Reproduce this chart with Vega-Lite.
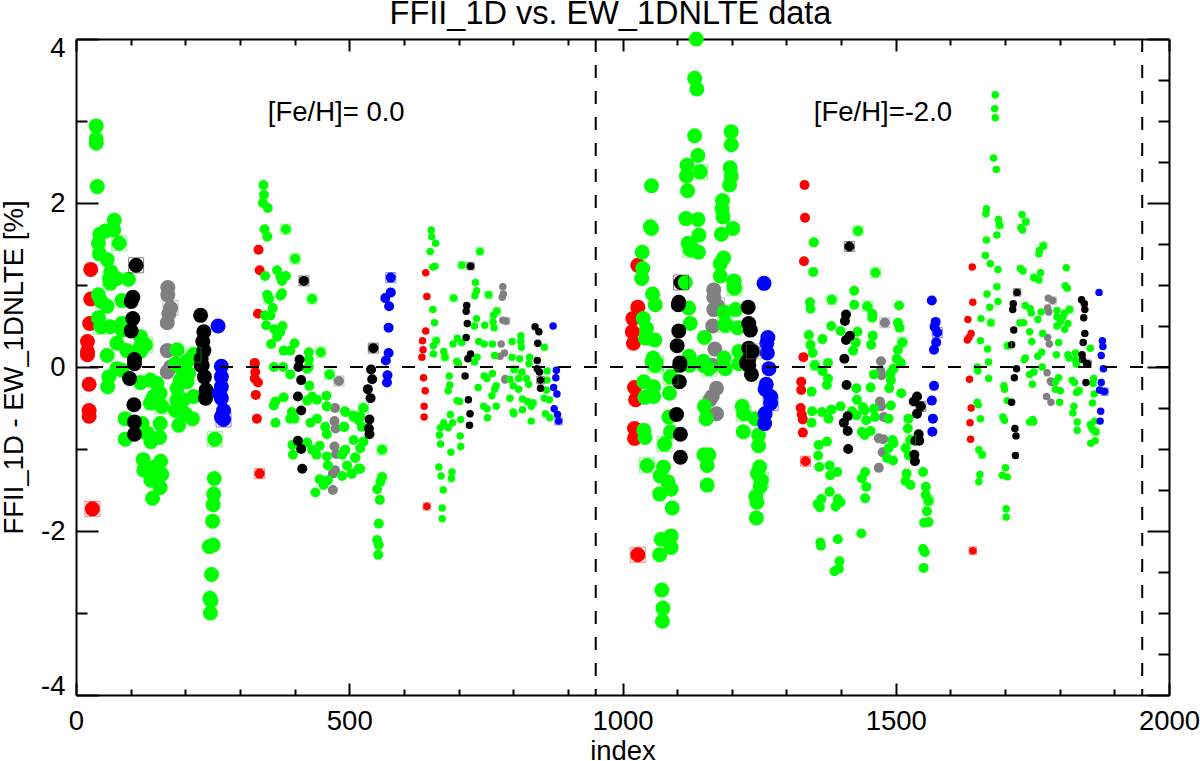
{"$schema":"https://vega.github.io/schema/vega-lite/v6.json","width":1093,"height":656,"autosize":"none","padding":{"left":76,"top":39,"right":31,"bottom":66},"background":"white","view":{"stroke":null},
"title":{"text":"FFII_1D vs. EW_1DNLTE data","font":"Liberation Sans","fontSize":32.5,"fontWeight":"normal","color":"black","anchor":"middle","dx":-12,"offset":1},
"config":{"axis":{"grid":false,"domainColor":"black","domainWidth":2,"tickColor":"black","tickWidth":2,"labelColor":"black","titleColor":"black","labelFont":"Liberation Sans","titleFont":"Liberation Sans","labelFontSize":27.5,"titleFontSize":27.5,"titleFontWeight":"normal"}},
"data":{"values":[
{"i":27,"d":1.19,"k":"r","g":1},{"i":27,"d":0.83,"k":"r","g":1},{"i":25,"d":0.53,"k":"r","g":1},{"i":21,"d":0.31,"k":"r","g":1},{"i":21,"d":0.19,"k":"r","g":1},{"i":21,"d":0.15,"k":"r","g":1},{"i":24,"d":-0.21,"k":"r","g":1},{"i":24,"d":-0.53,"k":"r","g":1},{"i":24,"d":-0.6,"k":"r","g":1},{"i":30,"d":-1.73,"k":"r","g":1,"b":1},
{"i":168,"d":0.97,"k":"a","g":1},{"i":168,"d":0.88,"k":"a","g":1},{"i":173,"d":0.72,"k":"a","g":1,"b":1},{"i":170,"d":0.65,"k":"a","g":1},{"i":167,"d":0.54,"k":"a","g":1},{"i":167,"d":0.2,"k":"a","g":1},{"i":173,"d":0,"k":"a","g":1},{"i":167,"d":-0.06,"k":"a","g":1},
{"i":37,"d":2.94,"k":"g","g":1},{"i":37,"d":2.78,"k":"g","g":1},{"i":37,"d":2.73,"k":"g","g":1},{"i":39,"d":2.2,"k":"g","g":1},{"i":70,"d":1.79,"k":"g","g":1},{"i":54,"d":1.66,"k":"g","g":1},{"i":44,"d":1.62,"k":"g","g":1},{"i":69,"d":1.67,"k":"g","g":1},{"i":41,"d":1.51,"k":"g","g":1},{"i":79,"d":1.51,"k":"g","g":1,"b":1},{"i":43,"d":1.38,"k":"g","g":1},{"i":57,"d":1.31,"k":"g","g":1},{"i":64,"d":1.16,"k":"g","g":1},{"i":63,"d":1.02,"k":"g","g":1},{"i":75,"d":1.08,"k":"g","g":1},{"i":96,"d":1.07,"k":"g","g":1},{"i":62,"d":1.08,"k":"g","g":1,"b":1},{"i":41,"d":0.88,"k":"g","g":1},{"i":46,"d":0.8,"k":"g","g":1},{"i":57,"d":0.74,"k":"g","g":1},{"i":84,"d":0.81,"k":"g","g":1},{"i":41,"d":0.6,"k":"g","g":1},{"i":46,"d":0.49,"k":"g","g":1,"b":1},{"i":63,"d":0.49,"k":"g","g":1},{"i":84,"d":0.53,"k":"g","g":1},{"i":84,"d":0.45,"k":"g","g":1},{"i":118,"d":0.37,"k":"g","g":1},{"i":127,"d":0.27,"k":"g","g":1,"b":1},{"i":118,"d":0.25,"k":"g","g":1},{"i":118,"d":0.19,"k":"g","g":1},{"i":75,"d":0.29,"k":"g","g":1},{"i":93,"d":0.2,"k":"g","g":1},{"i":57,"d":0.14,"k":"g","g":1},{"i":75,"d":-0.02,"k":"g","g":1},{"i":84,"d":-0.04,"k":"g","g":1},{"i":185,"d":0.21,"k":"g","g":1},{"i":182,"d":0.04,"k":"g","g":1},{"i":203,"d":0.07,"k":"g","g":1},{"i":215,"d":0.15,"k":"g","g":1,"b":1},
{"i":60,"d":-0.12,"k":"g","g":1},{"i":58,"d":-0.24,"k":"g","g":1},{"i":90,"d":-0.63,"k":"g","g":1},{"i":90,"d":-0.88,"k":"g","g":1},{"i":118,"d":-0.19,"k":"g","g":1},{"i":136,"d":-0.16,"k":"g","g":1},{"i":148,"d":-0.2,"k":"g","g":1},{"i":142,"d":-0.36,"k":"g","g":1},{"i":154,"d":-0.32,"k":"g","g":1},{"i":136,"d":-0.44,"k":"g","g":1},{"i":157,"d":-0.48,"k":"g","g":1,"b":1},{"i":121,"d":-0.69,"k":"g","g":1},{"i":115,"d":-0.79,"k":"g","g":1},{"i":131,"d":-0.81,"k":"g","g":1},{"i":137,"d":-0.91,"k":"g","g":1},{"i":153,"d":-0.86,"k":"g","g":1},{"i":154,"d":-0.69,"k":"g","g":1},{"i":185,"d":-0.26,"k":"g","g":1},{"i":203,"d":-0.18,"k":"g","g":1},{"i":215,"d":-0.36,"k":"g","g":1},{"i":185,"d":-0.4,"k":"g","g":1},{"i":197,"d":-0.4,"k":"g","g":1},{"i":200,"d":-0.57,"k":"g","g":1},{"i":213,"d":-0.63,"k":"g","g":1},{"i":188,"d":-0.71,"k":"g","g":1},{"i":182,"d":-0.53,"k":"g","g":1},{"i":206,"d":-0.08,"k":"g","g":1},{"i":191,"d":0,"k":"g","g":1},{"i":191,"d":-0.16,"k":"g","g":1},{"i":123,"d":-1.13,"k":"g","g":1},{"i":155,"d":-1.15,"k":"g","g":1},{"i":124,"d":-1.26,"k":"g","g":1},{"i":145,"d":-1.22,"k":"g","g":1},{"i":157,"d":-1.31,"k":"g","g":1},{"i":137,"d":-1.38,"k":"g","g":1},{"i":154,"d":-1.47,"k":"g","g":1},{"i":140,"d":-1.6,"k":"g","g":1},{"i":254,"d":-0.88,"k":"g","g":1,"b":1},{"i":253,"d":-1.36,"k":"g","g":1},{"i":252,"d":-1.55,"k":"g","g":1},{"i":251,"d":-1.68,"k":"g","g":1},{"i":250,"d":-1.88,"k":"g","g":1},{"i":244,"d":-2.19,"k":"g","g":1},{"i":251,"d":-2.17,"k":"g","g":1},{"i":248,"d":-2.53,"k":"g","g":1},{"i":245,"d":-2.82,"k":"g","g":1},{"i":247,"d":-2.85,"k":"g","g":1},{"i":246,"d":-3,"k":"g","g":1},
{"i":110,"d":1.24,"k":"k","g":1,"b":1},{"i":104,"d":0.85,"k":"k","g":1},{"i":101,"d":0.8,"k":"k","g":1},{"i":104,"d":0.59,"k":"k","g":1},{"i":101,"d":0.44,"k":"k","g":1},{"i":107,"d":0.09,"k":"k","g":1},{"i":228,"d":0.63,"k":"k","g":1},{"i":234,"d":0.43,"k":"k","g":1},{"i":232,"d":0.31,"k":"k","g":1},{"i":234,"d":0.2,"k":"k","g":1},{"i":229,"d":0.1,"k":"k","g":1},{"i":229,"d":0.02,"k":"k","g":1},{"i":107,"d":0.04,"k":"k","g":1},{"i":98,"d":-0.14,"k":"k","g":1},{"i":106,"d":-0.46,"k":"k","g":1},{"i":107,"d":-0.67,"k":"k","g":1},{"i":107,"d":-0.82,"k":"k","g":1},{"i":231,"d":0.02,"k":"k","g":1},{"i":235,"d":-0.12,"k":"k","g":1},{"i":238,"d":-0.28,"k":"k","g":1},{"i":237,"d":-0.38,"k":"k","g":1},
{"i":260,"d":0.5,"k":"b","g":1},{"i":266,"d":0.01,"k":"b","g":1},{"i":266,"d":-0.12,"k":"b","g":1},{"i":266,"d":-0.24,"k":"b","g":1},{"i":262,"d":-0.32,"k":"b","g":1},{"i":266,"d":-0.38,"k":"b","g":1},{"i":270,"d":-0.53,"k":"b","g":1},{"i":266,"d":-0.61,"k":"b","g":1},{"i":270,"d":-0.64,"k":"b","g":1,"b":1},
{"i":334,"d":1.43,"k":"r","g":2},{"i":336,"d":1.18,"k":"r","g":2},{"i":333,"d":0.65,"k":"r","g":2},{"i":327,"d":0.05,"k":"r","g":2},{"i":327,"d":0.04,"k":"r","g":2},{"i":328,"d":-0.06,"k":"r","g":2},{"i":327,"d":-0.14,"k":"r","g":2},{"i":333,"d":-0.19,"k":"r","g":2},{"i":329,"d":-0.34,"k":"r","g":2},{"i":331,"d":-0.63,"k":"r","g":2},{"i":336,"d":-1.3,"k":"r","g":2,"b":1},
{"i":481,"d":-0.17,"k":"a","g":2,"b":1},{"i":474,"d":-0.5,"k":"a","g":2},{"i":473,"d":-0.66,"k":"a","g":2},{"i":475,"d":-0.75,"k":"a","g":2},{"i":473,"d":-0.97,"k":"a","g":2},{"i":476,"d":-1.06,"k":"a","g":2},{"i":474,"d":-1.26,"k":"a","g":2},{"i":470,"d":-1.3,"k":"a","g":2},{"i":470,"d":-1.5,"k":"a","g":2},
{"i":343,"d":2.22,"k":"g","g":2},{"i":344,"d":2.1,"k":"g","g":2},{"i":342,"d":2,"k":"g","g":2},{"i":351,"d":1.94,"k":"g","g":2},{"i":345,"d":1.68,"k":"g","g":2},{"i":350,"d":1.59,"k":"g","g":2},{"i":384,"d":1.68,"k":"g","g":2,"b":1},{"i":401,"d":1.32,"k":"g","g":2,"b":1},{"i":368,"d":1.18,"k":"g","g":2},{"i":374,"d":1.1,"k":"g","g":2},{"i":384,"d":1.11,"k":"g","g":2},{"i":377,"d":1.05,"k":"g","g":2},{"i":346,"d":1.11,"k":"g","g":2},{"i":377,"d":0.9,"k":"g","g":2},{"i":374,"d":0.87,"k":"g","g":2},{"i":350,"d":0.88,"k":"g","g":2},{"i":353,"d":0.83,"k":"g","g":2,"b":1},{"i":432,"d":0.83,"k":"g","g":2,"b":1},{"i":360,"d":0.72,"k":"g","g":2},{"i":346,"d":0.63,"k":"g","g":2},{"i":356,"d":0.63,"k":"g","g":2},{"i":348,"d":0.51,"k":"g","g":2},{"i":378,"d":0.5,"k":"g","g":2},{"i":363,"d":0.46,"k":"g","g":2},{"i":374,"d":0.43,"k":"g","g":2},{"i":368,"d":0.37,"k":"g","g":2},{"i":357,"d":0.28,"k":"g","g":2},{"i":400,"d":0.29,"k":"g","g":2},{"i":380,"d":0.2,"k":"g","g":2},{"i":392,"d":0.2,"k":"g","g":2},{"i":448,"d":0.18,"k":"g","g":2,"b":1},{"i":426,"d":0.18,"k":"g","g":2},{"i":426,"d":0.09,"k":"g","g":2},{"i":362,"d":0,"k":"g","g":2},{"i":379,"d":0,"k":"g","g":2},{"i":423,"d":-0.02,"k":"g","g":2},{"i":392,"d":-0.09,"k":"g","g":2},{"i":426,"d":0,"k":"g","g":2},{"i":464,"d":-0.09,"k":"g","g":2,"b":1},{"i":427,"d":-0.23,"k":"g","g":2},{"i":380,"d":-0.37,"k":"g","g":2},{"i":365,"d":-0.42,"k":"g","g":2},{"i":362,"d":-0.47,"k":"g","g":2},{"i":395,"d":-0.55,"k":"g","g":2},{"i":392,"d":-0.63,"k":"g","g":2},{"i":400,"d":-0.63,"k":"g","g":2},{"i":365,"d":-0.68,"k":"g","g":2},{"i":429,"d":-0.68,"k":"g","g":2},{"i":441,"d":-0.63,"k":"g","g":2},{"i":423,"d":-0.41,"k":"g","g":2},{"i":432,"d":-0.36,"k":"g","g":2},{"i":441,"d":-0.4,"k":"g","g":2},{"i":458,"d":-0.35,"k":"g","g":2},{"i":459,"d":-0.48,"k":"g","g":2},{"i":456,"d":-0.73,"k":"g","g":2},{"i":459,"d":-0.82,"k":"g","g":2},{"i":492,"d":-0.54,"k":"g","g":2},{"i":508,"d":-0.59,"k":"g","g":2},{"i":517,"d":-0.65,"k":"g","g":2},{"i":490,"d":-0.73,"k":"g","g":2},{"i":508,"d":-0.89,"k":"g","g":2},{"i":396,"d":-0.95,"k":"g","g":2},{"i":397,"d":-1.07,"k":"g","g":2},{"i":423,"d":-0.92,"k":"g","g":2},{"i":432,"d":-1.01,"k":"g","g":2},{"i":440,"d":-1.07,"k":"g","g":2},{"i":446,"d":-0.96,"k":"g","g":2},{"i":459,"d":-1.09,"k":"g","g":2},{"i":461,"d":-1.2,"k":"g","g":2},{"i":493,"d":-1.01,"k":"g","g":2},{"i":487,"d":-1.07,"k":"g","g":2},{"i":511,"d":-1.11,"k":"g","g":2},{"i":496,"d":-1.2,"k":"g","g":2},{"i":487,"d":-1.33,"k":"g","g":2},{"i":504,"d":-1.3,"k":"g","g":2},{"i":517,"d":-1.24,"k":"g","g":2},{"i":446,"d":-1.37,"k":"g","g":2},{"i":453,"d":-1.44,"k":"g","g":2},{"i":461,"d":-1.38,"k":"g","g":2},{"i":438,"d":-1.53,"k":"g","g":2},{"i":493,"d":-0.55,"k":"g","g":2},{"i":508,"d":-0.61,"k":"g","g":2},{"i":526,"d":-0.5,"k":"g","g":2,"b":1},{"i":520,"d":-0.6,"k":"g","g":2},{"i":491,"d":-0.73,"k":"g","g":2},{"i":523,"d":-0.73,"k":"g","g":2},{"i":526,"d":-0.91,"k":"g","g":2},{"i":491,"d":-1.02,"k":"g","g":2},{"i":520,"d":-0.99,"k":"g","g":2},{"i":511,"d":-1.1,"k":"g","g":2},{"i":520,"d":-1.24,"k":"g","g":2},{"i":505,"d":-1.3,"k":"g","g":2},{"i":560,"d":-1.01,"k":"g","g":2,"b":1},{"i":560,"d":-1.34,"k":"g","g":2},{"i":557,"d":-1.4,"k":"g","g":2},{"i":551,"d":-1.49,"k":"g","g":2},{"i":556,"d":-1.62,"k":"g","g":2},{"i":554,"d":-1.91,"k":"g","g":2},{"i":551,"d":-2.11,"k":"g","g":2},{"i":554,"d":-2.17,"k":"g","g":2},{"i":553,"d":-2.29,"k":"g","g":2},
{"i":417,"d":1.05,"k":"k","g":2,"b":1},{"i":409,"d":0.09,"k":"k","g":2},{"i":407,"d":0,"k":"k","g":2},{"i":412,"d":-0.16,"k":"k","g":2},{"i":406,"d":-0.36,"k":"k","g":2},{"i":412,"d":-0.53,"k":"k","g":2},{"i":406,"d":-0.9,"k":"k","g":2},{"i":412,"d":-1,"k":"k","g":2},{"i":414,"d":-1.24,"k":"k","g":2},{"i":544,"d":0.23,"k":"k","g":2,"b":1},{"i":540,"d":-0.03,"k":"k","g":2},{"i":542,"d":-0.15,"k":"k","g":2},{"i":534,"d":-0.27,"k":"k","g":2},{"i":539,"d":-0.38,"k":"k","g":2},{"i":537,"d":-0.64,"k":"k","g":2},{"i":536,"d":-0.75,"k":"k","g":2},{"i":537,"d":-0.82,"k":"k","g":2},
{"i":576,"d":1.09,"k":"b","g":2,"b":1},{"i":576,"d":0.91,"k":"b","g":2},{"i":566,"d":0.84,"k":"b","g":2},{"i":573,"d":0.74,"k":"b","g":2},{"i":572,"d":0.48,"k":"b","g":2},{"i":572,"d":0.17,"k":"b","g":2},{"i":567,"d":0.08,"k":"b","g":2},{"i":570,"d":-0.1,"k":"b","g":2},{"i":569,"d":-0.19,"k":"b","g":2},
{"i":640,"d":1.15,"k":"r","g":3},{"i":642,"d":0.86,"k":"r","g":3},{"i":640,"d":0.44,"k":"r","g":3},{"i":634,"d":0.32,"k":"r","g":3},{"i":635,"d":0.21,"k":"r","g":3},{"i":633,"d":0.12,"k":"r","g":3},{"i":636,"d":-0.13,"k":"r","g":3},{"i":639,"d":-0.29,"k":"r","g":3},{"i":637,"d":-0.48,"k":"r","g":3},{"i":637,"d":-0.61,"k":"r","g":3},{"i":642,"d":-1.7,"k":"r","g":3,"b":1},
{"i":781,"d":0.98,"k":"a","g":3},{"i":782,"d":0.89,"k":"a","g":3},{"i":780,"d":0.85,"k":"a","g":3},{"i":781,"d":0.57,"k":"a","g":3},{"i":787,"d":0.56,"k":"a","g":3,"b":1},{"i":778,"d":0.28,"k":"a","g":3},{"i":784,"d":0.17,"k":"a","g":3},{"i":776,"d":0.13,"k":"a","g":3},{"i":785,"d":-0.14,"k":"a","g":3},{"i":785,"d":-0.16,"k":"a","g":3},
{"i":650,"d":1.67,"k":"g","g":3},{"i":651,"d":1.59,"k":"g","g":3},{"i":658,"d":1.51,"k":"g","g":3},{"i":648,"d":1.41,"k":"g","g":3},{"i":653,"d":1.22,"k":"g","g":3},{"i":657,"d":1.23,"k":"g","g":3},{"i":739,"d":1.41,"k":"g","g":3,"b":1},{"i":706,"d":1.24,"k":"g","g":3,"b":1},{"i":731,"d":1.03,"k":"g","g":3},{"i":733,"d":0.93,"k":"g","g":3},{"i":730,"d":0.87,"k":"g","g":3},{"i":691,"d":0.84,"k":"g","g":3,"b":1},{"i":755,"d":0.88,"k":"g","g":3,"b":1},{"i":653,"d":0.7,"k":"g","g":3},{"i":656,"d":0.54,"k":"g","g":3},{"i":770,"d":0.68,"k":"g","g":3,"b":1},{"i":764,"d":0.63,"k":"g","g":3},{"i":733,"d":0.59,"k":"g","g":3},{"i":729,"d":0.5,"k":"g","g":3},{"i":748,"d":0.51,"k":"g","g":3},{"i":763,"d":0.55,"k":"g","g":3},{"i":765,"d":0.48,"k":"g","g":3},{"i":659,"d":0.32,"k":"g","g":3,"b":1},{"i":654,"d":0.26,"k":"g","g":3},{"i":654,"d":0.16,"k":"g","g":3},{"i":698,"d":0.35,"k":"g","g":3},{"i":690,"d":0.28,"k":"g","g":3},{"i":706,"d":0.3,"k":"g","g":3},{"i":737,"d":0.31,"k":"g","g":3},{"i":747,"d":0.28,"k":"g","g":3},{"i":762,"d":0.28,"k":"g","g":3},{"i":798,"d":0.31,"k":"g","g":3},{"i":814,"d":0.38,"k":"g","g":3},{"i":814,"d":0.31,"k":"g","g":3},{"i":815,"d":0.24,"k":"g","g":3},{"i":857,"d":0.24,"k":"g","g":3},{"i":673,"d":0.19,"k":"g","g":3},{"i":675,"d":0.12,"k":"g","g":3,"b":1},{"i":766,"d":0.14,"k":"g","g":3},{"i":734,"d":0.12,"k":"g","g":3},{"i":798,"d":0.12,"k":"g","g":3},{"i":812,"d":0.1,"k":"g","g":3},{"i":830,"d":0.12,"k":"g","g":3},{"i":697,"d":0.07,"k":"g","g":3},{"i":700,"d":0.04,"k":"g","g":3},{"i":729,"d":0.06,"k":"g","g":3},{"i":829,"d":0.04,"k":"g","g":3},{"i":802,"d":-0.03,"k":"g","g":3,"b":1},{"i":862,"d":-0.05,"k":"g","g":3},{"i":683,"d":-0.11,"k":"g","g":3},{"i":762,"d":-0.08,"k":"g","g":3},{"i":747,"d":-0.11,"k":"g","g":3},{"i":752,"d":-0.14,"k":"g","g":3},{"i":684,"d":-0.22,"k":"g","g":3},{"i":681,"d":-0.29,"k":"g","g":3},{"i":736,"d":-0.25,"k":"g","g":3},{"i":769,"d":-0.23,"k":"g","g":3},{"i":766,"d":-0.27,"k":"g","g":3},{"i":794,"d":-0.15,"k":"g","g":3},{"i":800,"d":-0.23,"k":"g","g":3},{"i":810,"d":-0.14,"k":"g","g":3},{"i":816,"d":-0.06,"k":"g","g":3},{"i":824,"d":-0.14,"k":"g","g":3},{"i":810,"d":-0.27,"k":"g","g":3},{"i":828,"d":-0.21,"k":"g","g":3},{"i":862,"d":-0.16,"k":"g","g":3},{"i":861,"d":-0.28,"k":"g","g":3},{"i":761,"d":-0.35,"k":"g","g":3},{"i":697,"d":-0.41,"k":"g","g":3},{"i":702,"d":-0.42,"k":"g","g":3},{"i":794,"d":-0.38,"k":"g","g":3},{"i":817,"d":-0.39,"k":"g","g":3},{"i":857,"d":-0.38,"k":"g","g":3},{"i":866,"d":-0.4,"k":"g","g":3},{"i":826,"d":-0.42,"k":"g","g":3},{"i":836,"d":-0.44,"k":"g","g":3,"b":1},{"i":833,"d":-0.48,"k":"g","g":3},{"i":746,"d":-0.48,"k":"g","g":3},{"i":769,"d":-0.48,"k":"g","g":3},{"i":752,"d":-0.51,"k":"g","g":3},{"i":817,"d":-0.52,"k":"g","g":3},{"i":800,"d":-0.55,"k":"g","g":3},{"i":801,"d":-0.57,"k":"g","g":3},{"i":685,"d":-0.58,"k":"g","g":3},{"i":859,"d":-0.57,"k":"g","g":3},{"i":867,"d":-0.62,"k":"g","g":3},{"i":753,"d":-0.62,"k":"g","g":3},{"i":833,"d":-0.66,"k":"g","g":3},{"i":673,"d":-0.68,"k":"g","g":3},{"i":689,"d":-0.68,"k":"g","g":3},{"i":704,"d":-0.64,"k":"g","g":3},{"i":667,"d":-0.74,"k":"g","g":3},{"i":681,"d":-0.74,"k":"g","g":3},{"i":665,"d":-0.83,"k":"g","g":3},{"i":703,"d":-0.84,"k":"g","g":3},{"i":667,"d":-0.94,"k":"g","g":3},{"i":704,"d":-0.97,"k":"g","g":3},{"i":686,"d":-1.04,"k":"g","g":3},{"i":664,"d":-1.22,"k":"g","g":3},{"i":668,"d":-1.33,"k":"g","g":3},{"i":688,"d":-1.28,"k":"g","g":3},{"i":687,"d":-1.36,"k":"g","g":3},{"i":672,"d":-1.5,"k":"g","g":3},{"i":670,"d":-1.72,"k":"g","g":3},{"i":670,"d":-1.85,"k":"g","g":3},
{"i":722,"d":1.23,"k":"k","g":3,"b":1},{"i":715,"d":0.75,"k":"k","g":3},{"i":714,"d":0.68,"k":"k","g":3},{"i":716,"d":0.53,"k":"k","g":3},{"i":714,"d":0.36,"k":"k","g":3},{"i":722,"d":0.16,"k":"k","g":3},{"i":717,"d":0.1,"k":"k","g":3},{"i":712,"d":-0.11,"k":"k","g":3},{"i":718,"d":-0.4,"k":"k","g":3},{"i":721,"d":-0.57,"k":"k","g":3},{"i":720,"d":-0.71,"k":"k","g":3},{"i":840,"d":0.49,"k":"k","g":3},{"i":847,"d":0.43,"k":"k","g":3},{"i":845,"d":0.29,"k":"k","g":3},{"i":844,"d":0.08,"k":"k","g":3},{"i":844,"d":-0.02,"k":"k","g":3},{"i":848,"d":-0.06,"k":"k","g":3},{"i":850,"d":-0.16,"k":"k","g":3,"b":1},{"i":850,"d":-0.26,"k":"k","g":3},
{"i":873,"d":0.5,"k":"b","g":3},{"i":879,"d":-0.04,"k":"b","g":3},{"i":878,"d":-0.13,"k":"b","g":3},{"i":874,"d":-0.25,"k":"b","g":3},{"i":880,"d":-0.33,"k":"b","g":3},{"i":875,"d":-0.51,"k":"b","g":3},{"i":881,"d":-0.58,"k":"b","g":3},{"i":883,"d":-0.66,"k":"b","g":3,"b":1},
{"i":1028,"d":1.24,"k":"r","g":4},{"i":1028,"d":0.73,"k":"r","g":4},{"i":1019,"d":0.59,"k":"r","g":4},{"i":1018,"d":0.43,"k":"r","g":4},{"i":1020,"d":0.29,"k":"r","g":4},{"i":1022,"d":-0.25,"k":"r","g":4},{"i":1024,"d":-0.4,"k":"r","g":4},{"i":1022,"d":-0.75,"k":"r","g":4},{"i":1022,"d":-0.87,"k":"r","g":4},{"i":1028,"d":-2.29,"k":"r","g":4,"b":1},
{"i":1167,"d":0.94,"k":"a","g":4},{"i":1167,"d":0.85,"k":"a","g":4},{"i":1173,"d":0.75,"k":"a","g":4,"b":1},{"i":1167,"d":0.7,"k":"a","g":4},{"i":1165,"d":0.5,"k":"a","g":4},{"i":1169,"d":0.22,"k":"a","g":4},{"i":1164,"d":0.02,"k":"a","g":4},{"i":1240,"d":0.19,"k":"a","g":4,"b":1},{"i":1172,"d":-0.26,"k":"a","g":4},{"i":1164,"d":-0.36,"k":"a","g":4},{"i":1160,"d":-0.4,"k":"a","g":4},{"i":1172,"d":-0.57,"k":"a","g":4},
{"i":1135,"d":4,"k":"g","g":4},{"i":1132,"d":3.52,"k":"g","g":4},{"i":1136,"d":3.39,"k":"g","g":4},{"i":1132,"d":2.82,"k":"g","g":4},{"i":1138,"d":2.58,"k":"g","g":4},{"i":1118,"d":2.46,"k":"g","g":4},{"i":1142,"d":2.38,"k":"g","g":4,"b":1},{"i":1117,"d":2.33,"k":"g","g":4},{"i":1119,"d":2.15,"k":"g","g":4},{"i":1116,"d":1.81,"k":"g","g":4},{"i":1138,"d":1.8,"k":"g","g":4},{"i":1140,"d":1.61,"k":"g","g":4},{"i":1120,"d":1.51,"k":"g","g":4},{"i":1127,"d":1.45,"k":"g","g":4},{"i":1124,"d":1.43,"k":"g","g":4,"b":1},{"i":1139,"d":1.4,"k":"g","g":4},{"i":1199,"d":2.87,"k":"g","g":4},{"i":1199,"d":2.71,"k":"g","g":4},{"i":1197,"d":2.43,"k":"g","g":4},{"i":1199,"d":2.33,"k":"g","g":4},{"i":1196,"d":2.22,"k":"g","g":4},{"i":1183,"d":2.03,"k":"g","g":4},{"i":1182,"d":1.93,"k":"g","g":4},{"i":1184,"d":1.83,"k":"g","g":4},{"i":1202,"d":1.69,"k":"g","g":4},{"i":1181,"d":1.62,"k":"g","g":4},{"i":1185,"d":1.33,"k":"g","g":4},{"i":1179,"d":1.26,"k":"g","g":4},{"i":1179,"d":1.11,"k":"g","g":4},{"i":1204,"d":1.05,"k":"g","g":4},{"i":1205,"d":0.96,"k":"g","g":4,"b":1},{"i":1204,"d":0.98,"k":"g","g":4},{"i":1053,"d":2.21,"k":"g","g":4},{"i":1051,"d":1.71,"k":"g","g":4},{"i":1053,"d":1.69,"k":"g","g":4},{"i":1036,"d":1.4,"k":"g","g":4},{"i":1037,"d":1.2,"k":"g","g":4},{"i":1035,"d":1.08,"k":"g","g":4},{"i":1055,"d":0.89,"k":"g","g":4},{"i":1060,"d":0.76,"k":"g","g":4},{"i":1038,"d":0.59,"k":"g","g":4},{"i":1044,"d":0.47,"k":"g","g":4},{"i":1042,"d":0.35,"k":"g","g":4},{"i":1059,"d":0.33,"k":"g","g":4},{"i":1056,"d":0.11,"k":"g","g":4},{"i":1061,"d":0.05,"k":"g","g":4,"b":1},{"i":1121,"d":0.72,"k":"g","g":4},{"i":1124,"d":0.53,"k":"g","g":4},{"i":1150,"d":0.36,"k":"g","g":4},{"i":1122,"d":0.13,"k":"g","g":4},{"i":1121,"d":0.05,"k":"g","g":4},{"i":1148,"d":0.07,"k":"g","g":4},{"i":1188,"d":0.51,"k":"g","g":4,"b":1},{"i":1186,"d":0.67,"k":"g","g":4},{"i":1207,"d":0.7,"k":"g","g":4},{"i":1188,"d":0.53,"k":"g","g":4},{"i":1211,"d":0.48,"k":"g","g":4},{"i":1213,"d":0.19,"k":"g","g":4},{"i":1186,"d":0.11,"k":"g","g":4},{"i":1188,"d":-0.02,"k":"g","g":4},{"i":1213,"d":0.04,"k":"g","g":4},{"i":1060,"d":0.02,"k":"g","g":4,"b":1},{"i":1054,"d":0.06,"k":"g","g":4},{"i":1039,"d":-0.18,"k":"g","g":4},{"i":1057,"d":-0.24,"k":"g","g":4},{"i":1057,"d":-0.36,"k":"g","g":4},{"i":1041,"d":-0.37,"k":"g","g":4},{"i":1086,"d":-0.32,"k":"g","g":4},{"i":1088,"d":-0.12,"k":"g","g":4,"b":1},{"i":1085,"d":-0.61,"k":"g","g":4},{"i":1088,"d":-0.79,"k":"g","g":4},{"i":1077,"d":-0.94,"k":"g","g":4,"b":1},{"i":1039,"d":-0.77,"k":"g","g":4},{"i":1041,"d":-0.86,"k":"g","g":4},{"i":1045,"d":-1.2,"k":"g","g":4,"b":1},{"i":1075,"d":-1.22,"k":"g","g":4},{"i":1069,"d":-1.33,"k":"g","g":4},{"i":1083,"d":-1.4,"k":"g","g":4},{"i":1089,"d":-1.49,"k":"g","g":4},{"i":1068,"d":-1.55,"k":"g","g":4},{"i":1091,"d":-1.72,"k":"g","g":4},{"i":1089,"d":-2.06,"k":"g","g":4},{"i":1071,"d":-2.1,"k":"g","g":4},{"i":1089,"d":-2.2,"k":"g","g":4},{"i":1068,"d":-2.29,"k":"g","g":4},{"i":1072,"d":-2.72,"k":"g","g":4},{"i":1074,"d":-2.94,"k":"g","g":4},{"i":1073,"d":-3.1,"k":"g","g":4},{"i":1123,"d":0.02,"k":"g","g":4},{"i":1148,"d":0.02,"k":"g","g":4},{"i":1158,"d":-0.02,"k":"g","g":4,"b":1},{"i":1186,"d":0,"k":"g","g":4},{"i":1150,"d":-0.48,"k":"g","g":4},{"i":1153,"d":-0.63,"k":"g","g":4},{"i":1149,"d":-1.07,"k":"g","g":4},{"i":1158,"d":-1.07,"k":"g","g":4},{"i":1155,"d":-1.2,"k":"g","g":4},{"i":1155,"d":-1.44,"k":"g","g":4},{"i":1219,"d":-0.48,"k":"g","g":4},{"i":1222,"d":-0.57,"k":"g","g":4,"b":1},{"i":1221,"d":-0.79,"k":"g","g":4},{"i":1243,"d":-0.63,"k":"g","g":4},{"i":1249,"d":-0.83,"k":"g","g":4},{"i":1249,"d":-0.96,"k":"g","g":4},{"i":1251,"d":-1.22,"k":"g","g":4},{"i":1247,"d":-1.3,"k":"g","g":4},{"i":1254,"d":-1.38,"k":"g","g":4,"b":1},{"i":1252,"d":-1.46,"k":"g","g":4},{"i":1244,"d":-1.58,"k":"g","g":4},{"i":1246,"d":-1.65,"k":"g","g":4},{"i":1245,"d":-1.84,"k":"g","g":4},
{"i":1107,"d":1.03,"k":"k","g":4,"b":1},{"i":1103,"d":0.79,"k":"k","g":4},{"i":1102,"d":0.76,"k":"k","g":4},{"i":1103,"d":0.44,"k":"k","g":4},{"i":1100,"d":0.26,"k":"k","g":4},{"i":1105,"d":0.05,"k":"k","g":4},{"i":1230,"d":0.73,"k":"k","g":4},{"i":1231,"d":0.53,"k":"k","g":4},{"i":1234,"d":0.45,"k":"k","g":4},{"i":1231,"d":0.23,"k":"k","g":4},{"i":1237,"d":0.19,"k":"k","g":4},{"i":1231,"d":0.09,"k":"k","g":4},{"i":1227,"d":0.05,"k":"k","g":4},{"i":1105,"d":0.02,"k":"k","g":4},{"i":1104,"d":-0.18,"k":"k","g":4},{"i":1099,"d":-0.58,"k":"k","g":4},{"i":1106,"d":-0.82,"k":"k","g":4},{"i":1106,"d":-1.1,"k":"k","g":4},{"i":1231,"d":0.02,"k":"k","g":4},{"i":1236,"d":-0.09,"k":"k","g":4},
{"i":1115,"d":1.03,"k":"g","g":4},
{"i":1259,"d":1.02,"k":"b","g":4},{"i":1266,"d":0.36,"k":"b","g":4},{"i":1264,"d":0.29,"k":"b","g":4},{"i":1265,"d":0.17,"k":"b","g":4},{"i":1268,"d":-0.02,"k":"b","g":4},{"i":1263,"d":-0.21,"k":"b","g":4},{"i":1261,"d":-0.27,"k":"b","g":4},{"i":1271,"d":-0.36,"k":"b","g":4},{"i":1271,"d":-0.44,"k":"b","g":4,"b":1},{"i":1261,"d":-0.57,"k":"b","g":4},{"i":1260,"d":-0.69,"k":"b","g":4},
{"i":1333,"d":2.22,"k":"r","g":5},{"i":1334,"d":1.82,"k":"r","g":5},{"i":1332,"d":1.29,"k":"r","g":5},{"i":1331,"d":0.12,"k":"r","g":5},{"i":1327,"d":-0.18,"k":"r","g":5},{"i":1327,"d":-0.28,"k":"r","g":5},{"i":1326,"d":-0.5,"k":"r","g":5},{"i":1328,"d":-0.58,"k":"r","g":5},{"i":1330,"d":-0.64,"k":"r","g":5},{"i":1330,"d":-0.8,"k":"r","g":5},{"i":1335,"d":-1.15,"k":"r","g":5,"b":1},
{"i":1480,"d":0.54,"k":"a","g":5,"b":1},{"i":1473,"d":0.07,"k":"a","g":5},{"i":1472,"d":-0.05,"k":"a","g":5},{"i":1474,"d":-0.1,"k":"a","g":5},{"i":1471,"d":-0.42,"k":"a","g":5},{"i":1473,"d":-0.48,"k":"a","g":5},{"i":1478,"d":-0.61,"k":"a","g":5},{"i":1469,"d":-0.87,"k":"a","g":5},{"i":1477,"d":-0.88,"k":"a","g":5},{"i":1476,"d":-1.04,"k":"a","g":5},{"i":1469,"d":-1.23,"k":"a","g":5},
{"i":1350,"d":1.52,"k":"g","g":5},{"i":1349,"d":1.16,"k":"g","g":5},{"i":1431,"d":1.66,"k":"g","g":5,"b":1},{"i":1463,"d":1.15,"k":"g","g":5,"b":1},{"i":1424,"d":0.93,"k":"g","g":5},{"i":1343,"d":0.79,"k":"g","g":5},{"i":1344,"d":0.71,"k":"g","g":5},{"i":1383,"d":0.82,"k":"g","g":5,"b":1},{"i":1424,"d":0.76,"k":"g","g":5},{"i":1448,"d":0.74,"k":"g","g":5,"b":1},{"i":1457,"d":0.65,"k":"g","g":5},{"i":1457,"d":0.6,"k":"g","g":5},{"i":1506,"d":0.75,"k":"g","g":5},{"i":1504,"d":0.54,"k":"g","g":5},{"i":1507,"d":0.48,"k":"g","g":5},{"i":1382,"d":0.5,"k":"g","g":5},{"i":1399,"d":0.44,"k":"g","g":5},{"i":1430,"d":0.43,"k":"g","g":5},{"i":1341,"d":0.39,"k":"g","g":5},{"i":1366,"d":0.34,"k":"g","g":5},{"i":1458,"d":0.38,"k":"g","g":5},{"i":1455,"d":0.27,"k":"g","g":5},{"i":1427,"d":0.3,"k":"g","g":5},{"i":1422,"d":0.2,"k":"g","g":5},{"i":1512,"d":0.3,"k":"g","g":5,"b":1},{"i":1344,"d":0.27,"k":"g","g":5},{"i":1348,"d":0.17,"k":"g","g":5},{"i":1504,"d":0.21,"k":"g","g":5},{"i":1502,"d":0.1,"k":"g","g":5},{"i":1509,"d":0.05,"k":"g","g":5},{"i":1352,"d":0.02,"k":"g","g":5,"b":1},{"i":1376,"d":0.05,"k":"g","g":5},{"i":1366,"d":-0.05,"k":"g","g":5},{"i":1376,"d":-0.14,"k":"g","g":5},{"i":1374,"d":-0.22,"k":"g","g":5},{"i":1346,"d":-0.3,"k":"g","g":5},{"i":1460,"d":-0.09,"k":"g","g":5},{"i":1490,"d":-0.08,"k":"g","g":5},{"i":1491,"d":-0.16,"k":"g","g":5},{"i":1496,"d":-0.02,"k":"g","g":5},{"i":1488,"d":-0.26,"k":"g","g":5},{"i":1428,"d":-0.26,"k":"g","g":5},{"i":1454,"d":-0.25,"k":"g","g":5},{"i":1510,"d":-0.32,"k":"g","g":5},{"i":1429,"d":-0.4,"k":"g","g":5},{"i":1440,"d":-0.49,"k":"g","g":5},{"i":1443,"d":-0.53,"k":"g","g":5},{"i":1460,"d":-0.51,"k":"g","g":5},{"i":1462,"d":-0.61,"k":"g","g":5},{"i":1446,"d":-0.65,"k":"g","g":5},{"i":1491,"d":-0.47,"k":"g","g":5},{"i":1487,"d":-0.63,"k":"g","g":5},{"i":1347,"d":-0.54,"k":"g","g":5},{"i":1365,"d":-0.55,"k":"g","g":5},{"i":1382,"d":-0.52,"k":"g","g":5},{"i":1377,"d":-0.63,"k":"g","g":5},{"i":1399,"d":-0.48,"k":"g","g":5},{"i":1346,"d":-0.68,"k":"g","g":5},{"i":1420,"d":-0.54,"k":"g","g":5},{"i":1428,"d":-0.59,"k":"g","g":5},{"i":1523,"d":-0.63,"k":"g","g":5},{"i":1522,"d":-0.75,"k":"g","g":5},{"i":1438,"d":-0.79,"k":"g","g":5},{"i":1443,"d":-0.83,"k":"g","g":5},{"i":1454,"d":-0.78,"k":"g","g":5},{"i":1359,"d":-0.95,"k":"g","g":5},{"i":1374,"d":-0.91,"k":"g","g":5},{"i":1358,"d":-1.08,"k":"g","g":5},{"i":1360,"d":-1.22,"k":"g","g":5},{"i":1379,"d":-1.2,"k":"g","g":5},{"i":1393,"d":-1.28,"k":"g","g":5},{"i":1380,"d":-1.32,"k":"g","g":5},{"i":1494,"d":-0.89,"k":"g","g":5},{"i":1496,"d":-0.93,"k":"g","g":5},{"i":1487,"d":-0.99,"k":"g","g":5},{"i":1484,"d":-1.11,"k":"g","g":5},{"i":1495,"d":-1.14,"k":"g","g":5},{"i":1518,"d":-0.99,"k":"g","g":5},{"i":1527,"d":-0.89,"k":"g","g":5,"b":1},{"i":1524,"d":-1.08,"k":"g","g":5},{"i":1444,"d":-1.28,"k":"g","g":5},{"i":1438,"d":-1.36,"k":"g","g":5},{"i":1446,"d":-1.46,"k":"g","g":5},{"i":1444,"d":-1.6,"k":"g","g":5},{"i":1520,"d":-1.3,"k":"g","g":5},{"i":1518,"d":-1.39,"k":"g","g":5},{"i":1527,"d":-1.44,"k":"g","g":5},{"i":1550,"d":-1.28,"k":"g","g":5},{"i":1555,"d":-1.46,"k":"g","g":5},{"i":1555,"d":-1.56,"k":"g","g":5},{"i":1560,"d":-1.63,"k":"g","g":5,"b":1},{"i":1557,"d":-1.76,"k":"g","g":5},{"i":1560,"d":-1.89,"k":"g","g":5},{"i":1552,"d":-1.9,"k":"g","g":5},{"i":1379,"d":-1.52,"k":"g","g":5},{"i":1364,"d":-1.61,"k":"g","g":5},{"i":1357,"d":-1.67,"k":"g","g":5},{"i":1361,"d":-1.71,"k":"g","g":5},{"i":1394,"d":-1.61,"k":"g","g":5},{"i":1399,"d":-1.65,"k":"g","g":5},{"i":1390,"d":-1.7,"k":"g","g":5},{"i":1362,"d":-2.14,"k":"g","g":5},{"i":1363,"d":-2.18,"k":"g","g":5},{"i":1394,"d":-2.1,"k":"g","g":5},{"i":1437,"d":-2.03,"k":"g","g":5},{"i":1397,"d":-2.37,"k":"g","g":5},{"i":1396,"d":-2.46,"k":"g","g":5},{"i":1388,"d":-2.49,"k":"g","g":5},{"i":1550,"d":-2.22,"k":"g","g":5},{"i":1553,"d":-2.26,"k":"g","g":5},{"i":1551,"d":-2.45,"k":"g","g":5},
{"i":1415,"d":1.47,"k":"k","g":5,"b":1},{"i":1409,"d":0.64,"k":"k","g":5},{"i":1407,"d":0.56,"k":"k","g":5},{"i":1416,"d":0.38,"k":"k","g":5},{"i":1409,"d":0.33,"k":"k","g":5},{"i":1406,"d":0.1,"k":"k","g":5},{"i":1410,"d":-0.22,"k":"k","g":5},{"i":1412,"d":-0.6,"k":"k","g":5},{"i":1405,"d":-0.68,"k":"k","g":5},{"i":1412,"d":-0.78,"k":"k","g":5},{"i":1413,"d":-1,"k":"k","g":5},{"i":1539,"d":-0.36,"k":"k","g":5},{"i":1533,"d":-0.42,"k":"k","g":5},{"i":1546,"d":-0.48,"k":"k","g":5,"b":1},{"i":1539,"d":-0.57,"k":"k","g":5},{"i":1542,"d":-0.82,"k":"k","g":5},{"i":1536,"d":-0.9,"k":"k","g":5},{"i":1543,"d":-0.9,"k":"k","g":5},{"i":1534,"d":-1.07,"k":"k","g":5},{"i":1535,"d":-1.15,"k":"k","g":5},
{"i":1566,"d":0.81,"k":"b","g":5},{"i":1573,"d":0.55,"k":"b","g":5},{"i":1571,"d":0.49,"k":"b","g":5},{"i":1576,"d":0.42,"k":"b","g":5,"b":1},{"i":1574,"d":0.3,"k":"b","g":5},{"i":1570,"d":0.21,"k":"b","g":5},{"i":1570,"d":-0.23,"k":"b","g":5},{"i":1566,"d":-0.41,"k":"b","g":5},{"i":1568,"d":-0.63,"k":"b","g":5},{"i":1567,"d":-0.79,"k":"b","g":5},
{"i":1640,"d":1.22,"k":"r","g":6},{"i":1641,"d":0.79,"k":"r","g":6},{"i":1632,"d":0.58,"k":"r","g":6},{"i":1638,"d":0.41,"k":"r","g":6},{"i":1634,"d":0.36,"k":"r","g":6},{"i":1631,"d":0.33,"k":"r","g":6},{"i":1635,"d":-0.15,"k":"r","g":6},{"i":1638,"d":-0.5,"k":"r","g":6},{"i":1636,"d":-0.68,"k":"r","g":6},{"i":1637,"d":-0.88,"k":"r","g":6},{"i":1641,"d":-2.24,"k":"r","g":6,"b":1},
{"i":1779,"d":0.84,"k":"a","g":6},{"i":1787,"d":0.81,"k":"a","g":6,"b":1},{"i":1778,"d":0.72,"k":"a","g":6},{"i":1780,"d":0.67,"k":"a","g":6},{"i":1778,"d":0.36,"k":"a","g":6},{"i":1781,"d":0.28,"k":"a","g":6},{"i":1777,"d":-0.07,"k":"a","g":6},{"i":1783,"d":-0.17,"k":"a","g":6},{"i":1785,"d":-0.19,"k":"a","g":6},{"i":1776,"d":-0.36,"k":"a","g":6},{"i":1784,"d":-0.43,"k":"a","g":6},
{"i":1682,"d":3.32,"k":"g","g":6},{"i":1681,"d":3.15,"k":"g","g":6},{"i":1682,"d":3.04,"k":"g","g":6},{"i":1679,"d":2.55,"k":"g","g":6},{"i":1684,"d":2.41,"k":"g","g":6},{"i":1666,"d":1.93,"k":"g","g":6},{"i":1665,"d":1.87,"k":"g","g":6},{"i":1688,"d":1.8,"k":"g","g":6},{"i":1690,"d":1.73,"k":"g","g":6,"b":1},{"i":1731,"d":1.86,"k":"g","g":6},{"i":1738,"d":1.77,"k":"g","g":6,"b":1},{"i":1729,"d":1.7,"k":"g","g":6},{"i":1732,"d":1.67,"k":"g","g":6},{"i":1685,"d":1.61,"k":"g","g":6},{"i":1666,"d":1.55,"k":"g","g":6},{"i":1770,"d":1.48,"k":"g","g":6,"b":1},{"i":1763,"d":1.42,"k":"g","g":6},{"i":1762,"d":1.38,"k":"g","g":6},{"i":1664,"d":1.36,"k":"g","g":6},{"i":1673,"d":1.26,"k":"g","g":6},{"i":1687,"d":1.19,"k":"g","g":6},{"i":1728,"d":1.2,"k":"g","g":6},{"i":1733,"d":1.17,"k":"g","g":6},{"i":1812,"d":1.21,"k":"g","g":6},{"i":1765,"d":1.15,"k":"g","g":6},{"i":1753,"d":1.09,"k":"g","g":6,"b":1},{"i":1762,"d":1.06,"k":"g","g":6},{"i":1810,"d":0.99,"k":"g","g":6},{"i":1814,"d":0.96,"k":"g","g":6},{"i":1685,"d":0.98,"k":"g","g":6},{"i":1667,"d":0.89,"k":"g","g":6},{"i":1687,"d":0.8,"k":"g","g":6},{"i":1672,"d":0.73,"k":"g","g":6},{"i":1737,"d":0.75,"k":"g","g":6},{"i":1746,"d":0.71,"k":"g","g":6},{"i":1748,"d":0.66,"k":"g","g":6},{"i":1766,"d":0.67,"k":"g","g":6},{"i":1795,"d":0.69,"k":"g","g":6},{"i":1818,"d":0.7,"k":"g","g":6,"b":1},{"i":1809,"d":0.66,"k":"g","g":6},{"i":1795,"d":0.61,"k":"g","g":6},{"i":1806,"d":0.61,"k":"g","g":6},{"i":1760,"d":0.58,"k":"g","g":6},{"i":1656,"d":0.59,"k":"g","g":6},{"i":1674,"d":0.54,"k":"g","g":6,"b":1},{"i":1727,"d":0.54,"k":"g","g":6},{"i":1734,"d":0.54,"k":"g","g":6},{"i":1815,"d":0.53,"k":"g","g":6},{"i":1801,"d":0.55,"k":"g","g":6},{"i":1795,"d":0.5,"k":"g","g":6},{"i":1809,"d":0.46,"k":"g","g":6},{"i":1745,"d":0.43,"k":"g","g":6},{"i":1769,"d":0.41,"k":"g","g":6},{"i":1655,"d":0.32,"k":"g","g":6},{"i":1749,"d":0.31,"k":"g","g":6},{"i":1798,"d":0.3,"k":"g","g":6},{"i":1705,"d":0.26,"k":"g","g":6,"b":1},{"i":1668,"d":0.22,"k":"g","g":6},{"i":1856,"d":0.23,"k":"g","g":6},{"i":1829,"d":0.17,"k":"g","g":6},{"i":1815,"d":0.15,"k":"g","g":6},{"i":1794,"d":0.15,"k":"g","g":6},{"i":1767,"d":0.18,"k":"g","g":6},{"i":1760,"d":0.13,"k":"g","g":6},{"i":1817,"d":0.11,"k":"g","g":6},{"i":1737,"d":0.11,"k":"g","g":6},{"i":1735,"d":0.09,"k":"g","g":6},{"i":1829,"d":0.09,"k":"g","g":6},{"i":1831,"d":0.04,"k":"g","g":6,"b":1},{"i":1670,"d":0.06,"k":"g","g":6},{"i":1768,"d":0,"k":"g","g":6},{"i":1649,"d":0,"k":"g","g":6},{"i":1650,"d":-0.05,"k":"g","g":6},{"i":1670,"d":-0.14,"k":"g","g":6},{"i":1753,"d":-0.06,"k":"g","g":6},{"i":1745,"d":-0.09,"k":"g","g":6},{"i":1750,"d":-0.21,"k":"g","g":6},{"i":1698,"d":-0.23,"k":"g","g":6},{"i":1699,"d":-0.27,"k":"g","g":6},{"i":1704,"d":-0.41,"k":"g","g":6},{"i":1649,"d":-0.43,"k":"g","g":6},{"i":1651,"d":-0.46,"k":"g","g":6},{"i":1655,"d":-0.63,"k":"g","g":6},{"i":1696,"d":-0.61,"k":"g","g":6},{"i":1699,"d":-0.65,"k":"g","g":6},{"i":1745,"d":-0.67,"k":"g","g":6},{"i":1751,"d":-0.64,"k":"g","g":6},{"i":1752,"d":-0.67,"k":"g","g":6},{"i":1652,"d":-1.01,"k":"g","g":6},{"i":1658,"d":-1.07,"k":"g","g":6,"b":1},{"i":1654,"d":-1.31,"k":"g","g":6},{"i":1652,"d":-1.4,"k":"g","g":6},{"i":1701,"d":-1.23,"k":"g","g":6},{"i":1695,"d":-1.32,"k":"g","g":6},{"i":1704,"d":-1.34,"k":"g","g":6},{"i":1702,"d":-1.73,"k":"g","g":6},{"i":1702,"d":-1.83,"k":"g","g":6},{"i":1798,"d":-0.13,"k":"g","g":6},{"i":1792,"d":-0.18,"k":"g","g":6},{"i":1801,"d":-0.29,"k":"g","g":6},{"i":1792,"d":-0.27,"k":"g","g":6},{"i":1823,"d":-0.16,"k":"g","g":6},{"i":1827,"d":-0.19,"k":"g","g":6},{"i":1831,"d":-0.31,"k":"g","g":6},{"i":1835,"d":-0.29,"k":"g","g":6,"b":1},{"i":1800,"d":-0.43,"k":"g","g":6},{"i":1826,"d":-0.48,"k":"g","g":6},{"i":1824,"d":-0.56,"k":"g","g":6},{"i":1832,"d":-0.67,"k":"g","g":6},{"i":1832,"d":-0.77,"k":"g","g":6},{"i":1862,"d":-0.14,"k":"g","g":6},{"i":1861,"d":-0.2,"k":"g","g":6},{"i":1863,"d":-0.33,"k":"g","g":6},{"i":1860,"d":-0.44,"k":"g","g":6},{"i":1864,"d":-0.66,"k":"g","g":6},{"i":1856,"d":-0.7,"k":"g","g":6},{"i":1859,"d":-0.75,"k":"g","g":6},{"i":1866,"d":-0.79,"k":"g","g":6,"b":1},{"i":1862,"d":-0.77,"k":"g","g":6},{"i":1865,"d":-0.9,"k":"g","g":6},{"i":1857,"d":-0.93,"k":"g","g":6},
{"i":1722,"d":0.91,"k":"k","g":6,"b":1},{"i":1715,"d":0.77,"k":"k","g":6},{"i":1714,"d":0.7,"k":"k","g":6},{"i":1716,"d":0.45,"k":"k","g":6},{"i":1712,"d":0.27,"k":"k","g":6},{"i":1721,"d":-0.02,"k":"k","g":6},{"i":1717,"d":-0.13,"k":"k","g":6},{"i":1712,"d":-0.43,"k":"k","g":6},{"i":1718,"d":-0.75,"k":"k","g":6},{"i":1720,"d":-0.84,"k":"k","g":6},{"i":1719,"d":-1.08,"k":"k","g":6},{"i":1848,"d":-0.19,"k":"k","g":6},{"i":1840,"d":0.82,"k":"k","g":6},{"i":1845,"d":0.77,"k":"k","g":6},{"i":1846,"d":0.7,"k":"k","g":6},{"i":1844,"d":0.6,"k":"k","g":6},{"i":1846,"d":0.41,"k":"k","g":6},{"i":1843,"d":0.3,"k":"k","g":6},{"i":1841,"d":0.15,"k":"k","g":6},{"i":1842,"d":0.09,"k":"k","g":6},{"i":1849,"d":0.04,"k":"k","g":6},{"i":1851,"d":0.04,"k":"k","g":6,"b":1},
{"i":1872,"d":0.91,"k":"b","g":6},{"i":1878,"d":0.32,"k":"b","g":6},{"i":1879,"d":0.25,"k":"b","g":6},{"i":1876,"d":0.14,"k":"b","g":6},{"i":1880,"d":-0.02,"k":"b","g":6},{"i":1876,"d":-0.19,"k":"b","g":6},{"i":1873,"d":-0.28,"k":"b","g":6},{"i":1882,"d":-0.3,"k":"b","g":6,"b":1},{"i":1875,"d":-0.54,"k":"b","g":6},{"i":1874,"d":-0.66,"k":"b","g":6}
]},
"layer":[
{"mark":{"type":"circle","opacity":1,"clip":false},
"encoding":{
"x":{"field":"i","type":"quantitative","scale":{"domain":[0,2000],"nice":false,"zero":false},
"axis":{"orient":"bottom","title":"index","titlePadding":-3,"values":[0,100,200,300,400,500,600,700,800,900,1000,1100,1200,1300,1400,1500,1600,1700,1800,1900,2000],"format":"d","labelExpr":"datum.value%500==0?datum.label:''","labelOverlap":false,"labelFlush":false,"labelBound":false,"labelPadding":24,"tickSize":{"condition":{"test":"datum.value%500==0","value":-12},"value":-6}}},
"y":{"field":"d","type":"quantitative","scale":{"domain":[-4,4],"nice":false,"zero":false},
"axis":{"orient":"left","title":"FFII_1D - EW_1DNLTE [%]","titlePadding":12,"values":[-4,-3.5,-3,-2.5,-2,-1.5,-1,-0.5,0,0.5,1,1.5,2,2.5,3,3.5,4],"format":"d","labelExpr":"datum.value%2==0?replace(datum.label,'−','-'):''","labelOverlap":false,"labelFlush":true,"labelFlushOffset":5,"labelPadding":33,"tickSize":{"condition":{"test":"datum.value%2==0","value":-22},"value":-11}}},
"color":{"field":"k","type":"nominal","legend":null,"scale":{"domain":["r","g","k","a","b"],"range":["#ff0000","#00ff00","#000000","#808080","#0000ff"]}},
"size":{"field":"g","type":"ordinal","legend":null,"scale":{"type":"ordinal","domain":[1,2,3,4,5,6],"range":[225,100,56,225,100,56]}}}},
{"transform":[{"filter":"datum.b==1"}],"mark":{"type":"square","filled":false,"strokeWidth":1,"opacity":0.5},
"encoding":{
"x":{"field":"i","type":"quantitative","scale":{"domain":[0,2000],"nice":false,"zero":false},
"axis":{"orient":"top","title":null,"labels":false,"values":[0,100,200,300,400,500,600,700,800,900,1000,1100,1200,1300,1400,1500,1600,1700,1800,1900,2000],"tickSize":{"condition":{"test":"datum.value%500==0","value":-12},"value":-6}}},
"y":{"field":"d","type":"quantitative","scale":{"domain":[-4,4],"nice":false,"zero":false},
"axis":{"orient":"right","title":null,"labels":false,"values":[-4,-3.5,-3,-2.5,-2,-1.5,-1,-0.5,0,0.5,1,1.5,2,2.5,3,3.5,4],"tickSize":{"condition":{"test":"datum.value%2==0","value":-22},"value":-11}}},
"color":{"field":"k","type":"nominal","legend":null,"scale":{"domain":["r","g","k","a","b"],"range":["#ff0000","#00ff00","#000000","#808080","#0000ff"]}},
"size":{"field":"g","type":"ordinal","legend":null,"scale":{"type":"ordinal","domain":[1,2,3,4,5,6],"range":[240,121,64,240,121,64]}}}},
{"data":{"values":[{"x":951},{"x":1951}]},"mark":{"type":"rule","color":"black","strokeWidth":2,"strokeDash":[13,13]},"encoding":{"x":{"field":"x","type":"quantitative","axis":null}}},
{"data":{"values":[{"y":0}]},"mark":{"type":"rule","color":"black","strokeWidth":2,"strokeDash":[13,13]},"encoding":{"y":{"field":"y","type":"quantitative","axis":null}}},
{"data":{"values":[{"x":351,"y":3.1,"label":"[Fe/H]= 0.0"},{"x":1350,"y":3.1,"label":"[Fe/H]=-2.0"}]},"mark":{"type":"text","align":"left","baseline":"middle","font":"Liberation Sans","fontSize":27.5,"color":"black"},"encoding":{"x":{"field":"x","type":"quantitative","axis":null},"y":{"field":"y","type":"quantitative","axis":null},"text":{"field":"label"}}}
],
"resolve":{"axis":{"x":"independent","y":"independent"}}}
